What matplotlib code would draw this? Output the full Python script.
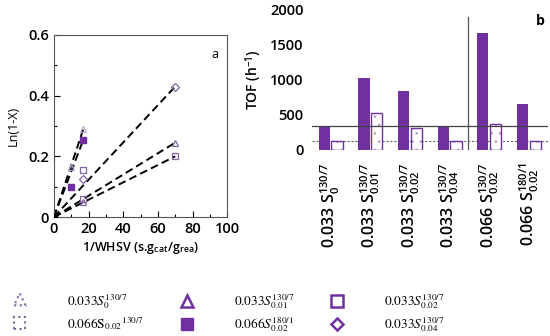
import matplotlib
matplotlib.use("Agg")
import numpy as np
from matplotlib import pyplot
from matplotlib.lines import Line2D
from matplotlib.patches import Polygon, Rectangle
from matplotlib.legend_handler import HandlerPatch

pyplot.rcParams["font.family"] = ["Open Sans", "DejaVu Sans"]
pyplot.rcParams["mathtext.fontset"] = "stix"
pyplot.rcParams["hatch.linewidth"] = 0.7

purple = "#7030A0"
lavender = "#8064A2"

# panel a: ln(1-X) vs 1/WHSV
s0_x = [10, 17]
s0_y = [0.165, 0.29]
s001_x = [17, 70]
s001_y = [0.05, 0.245]
s002_x = [17, 70]
s002_y = [0.06, 0.20]
s002b_x = [17]
s002b_y = [0.155]
s180_x = [10, 17]
s180_y = [0.10, 0.255]
s004_x = [17, 70]
s004_y = [0.125, 0.43]

# panel b: TOF
samples = [r"0.033 $\mathregular{S_{0}^{130/7}}$",
           r"0.033 $\mathregular{S_{0.01}^{130/7}}$",
           r"0.033 $\mathregular{S_{0.02}^{130/7}}$",
           r"0.033 $\mathregular{S_{0.04}^{130/7}}$",
           r"0.066 $\mathregular{S_{0.02}^{130/7}}$",
           r"0.066 $\mathregular{S_{0.02}^{180/1}}$"]
tof_filled = [340, 1020, 840, 320, 1670, 650]
tof_dotted = [120, 520, 310, 130, 370, 130]
ref_solid = 345
ref_dotted = 130

fig = pyplot.figure(figsize=(5.5, 3.36), dpi=100)

# ---- panel a
ax = fig.add_axes([0.098, 0.354, 0.315, 0.542])
for xs, ys in [(s0_x, s0_y), (s001_x, s001_y), (s002_x, s002_y),
               (s180_x, s180_y), (s004_x, s004_y)]:
    ax.plot([0, xs[-1]], [0, ys[-1]], color="black", ls=(0, (4, 2.2)), lw=1.4, zorder=2)
ax.plot(s0_x, s0_y, ls="none", marker="^", ms=5, mfc="none", mec="#B9A3D0", mew=0.9, zorder=3)
ax.plot(s001_x, s001_y, ls="none", marker="^", ms=5, mfc="none", mec=lavender, mew=0.9, zorder=3)
ax.plot(s002_x, s002_y, ls="none", marker="s", ms=5, mfc="none", mec=lavender, mew=0.9, zorder=3)
ax.plot(s002b_x, s002b_y, ls="none", marker="s", ms=5, mfc="none", mec=lavender, mew=0.9, zorder=3)
ax.plot(s180_x, s180_y, ls="none", marker="s", ms=5, mfc=purple, mec=purple, zorder=3)
ax.plot(s004_x, s004_y, ls="none", marker="D", ms=4, mfc="none", mec=lavender, mew=0.9, zorder=3)
ax.plot([0], [0], ls="none", marker="s", ms=4, color="black", zorder=4)
ax.set_xlim(0, 100)
ax.set_ylim(0, 0.6)
ax.set_xticks(np.arange(0, 101, 20))
ax.set_xticks(np.arange(10, 100, 20), minor=True)
ax.set_yticks([0, 0.2, 0.4, 0.6])
ax.set_yticks([0.1, 0.3, 0.5], minor=True)
ax.set_yticklabels(["0", "0.2", "0.4", "0.6"])
ax.tick_params(direction="in", length=4, labelsize=10.5, width=0.8)
ax.tick_params(which="minor", direction="in", length=2.5, width=0.8)
for lab in ax.get_xticklabels() + ax.get_yticklabels():
    lab.set_fontweight("semibold")
for sp in ax.spines.values():
    sp.set_color("#555555")
ax.set_ylabel("Ln(1-X)", fontsize=9, labelpad=6)
ax.set_xlabel(r"1/WHSV (s.g$_{\mathregular{cat}}$/g$_{\mathregular{rea}}$)",
              fontsize=9, fontweight="semibold", labelpad=3)
ax.text(0.95, 0.93, "a", transform=ax.transAxes, ha="right", va="top", fontsize=9)

# ---- panel b
bx = fig.add_axes([0.567, 0.554, 0.43, 0.417])
pos = np.arange(len(samples))
w = 0.28
bx.bar(pos - 0.16, tof_filled, w, color=purple, zorder=2)
bx.bar(pos + 0.16, tof_dotted, w, facecolor="white", edgecolor="#B8A2D2",
       hatch="..", lw=0, zorder=2)
bx.bar(pos + 0.16, tof_dotted, w, fill=False, edgecolor=purple, lw=1.0, zorder=2)
bx.axhline(ref_solid, color="#444444", lw=0.9, zorder=3)
bx.axhline(ref_dotted, color="#666666", lw=0.8, ls=(0, (2, 1.5)), zorder=1)
bx.axvline(3.46, ymin=0, ymax=0.945, color="#555555", lw=0.9)
bx.set_xlim(-0.475, 5.49)
bx.set_ylim(0, 2000)
bx.set_yticks([0, 500, 1000, 1500, 2000])
bx.set_xticks(pos)
bx.set_xticklabels(samples, rotation=90, fontsize=11.5, fontweight="semibold")
bx.tick_params(axis="y", length=0, labelsize=10.5, pad=6)
bx.tick_params(axis="x", length=0, pad=9)
for lab in bx.get_yticklabels():
    lab.set_fontweight("semibold")
for sp in bx.spines.values():
    sp.set_visible(False)
bx.set_ylabel(r"TOF (h$^{\mathregular{-1}}$)", fontsize=10, fontweight="semibold", labelpad=4)
bx.text(0.985, 0.97, "b", transform=bx.transAxes, ha="right", va="top",
        fontsize=10, fontweight="bold")


# ---- legend
def dotted_triangle(legend, orig_handle, xdescent, ydescent, width, height, fontsize):
    cx = width / 2 - xdescent
    return Polygon([[cx - 4, -ydescent], [cx + 4, -ydescent], [cx, height - ydescent + 2]],
                   closed=True)


def dotted_square(legend, orig_handle, xdescent, ydescent, width, height, fontsize):
    cx = width / 2 - xdescent
    return Rectangle((cx - 4, -ydescent), 8, 8)


h_tri_dot = Polygon([[0, 0], [1, 0], [0.5, 1]], fill=False, edgecolor=lavender, ls=":", lw=1.5)
h_sq_dot = Rectangle((0, 0), 1, 1, fill=False, edgecolor=lavender, ls=":", lw=1.5)
handles = [h_tri_dot, h_sq_dot,
           Line2D([], [], ls="none", marker="^", ms=8, mfc="none", mec=purple, mew=1.8),
           Line2D([], [], ls="none", marker="s", ms=8, mfc=purple, mec=purple),
           Line2D([], [], ls="none", marker="s", ms=8, mfc="none", mec=purple, mew=1.8),
           Line2D([], [], ls="none", marker="D", ms=6, mfc="none", mec=purple, mew=1.8)]
labels = [r"$0.033S_0^{130/7}$",
          r"$\mathrm{0.066S_{0.02}}^{130/7}$",
          r"$0.033S_{0.01}^{130/7}$",
          r"$0.066S_{0.02}^{180/1}$",
          r"$0.033S_{0.02}^{130/7}$",
          r"$0.033S_{0.04}^{130/7}$"]
fig.legend(handles, labels, loc="lower left", bbox_to_anchor=(0.0, -0.03), ncol=3,
           frameon=False, fontsize=9.5, handlelength=1.2, handletextpad=3.0,
           columnspacing=2.6, labelspacing=0.35,
           handler_map={h_tri_dot: HandlerPatch(patch_func=dotted_triangle),
                        h_sq_dot: HandlerPatch(patch_func=dotted_square)})

fig.savefig("out.png", dpi=100)
